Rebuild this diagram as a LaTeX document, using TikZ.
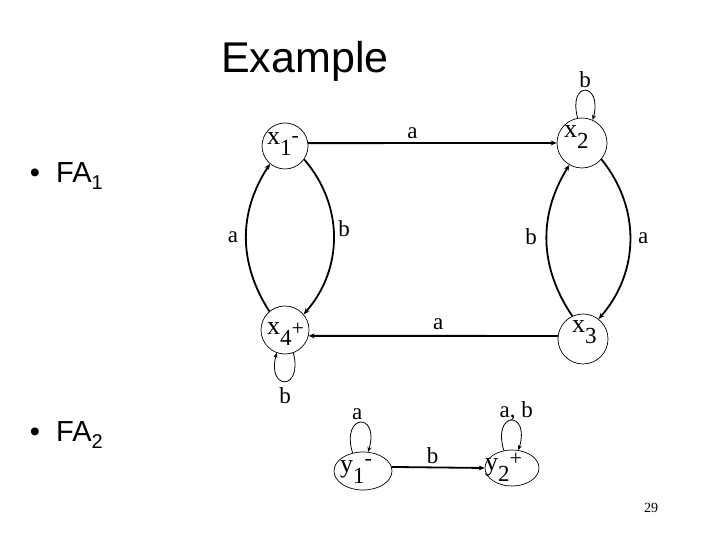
\documentclass[tikz,border=0pt]{standalone}
\usepackage{fontspec}
\setmainfont{Liberation Serif}
\newfontfamily\arialf{Liberation Sans}
\usetikzlibrary{arrows.meta,shapes.geometric}
\newcommand{\stlab}[4]{\fontsize{26}{26}\selectfont #1\raisebox{-11pt}{\fontsize{23}{23}\selectfont #2}\raisebox{#4}{\fontsize{22}{22}\selectfont #3}}
\begin{document}
\begin{tikzpicture}[x=1pt,y=1pt,
  st/.style={circle,draw,line width=0.7pt,inner sep=0pt},
  ov/.style={ellipse,draw,line width=0.7pt,inner sep=0pt},
  edge/.style={line width=1.8pt,-{Stealth[length=6pt,width=5pt]}},
  loopy/.style={line width=0.8pt,-{Stealth[length=5pt,width=4pt]}},
  lbl/.style={font=\fontsize{23}{23}\selectfont,inner sep=1pt},
  stl/.style={anchor=base west,inner sep=0pt},
  sans/.style={inner sep=0pt,font=\arialf\fontsize{29}{29}\selectfont}]
\useasboundingbox (0,0) rectangle (720,540);
% title and bullets
\node[anchor=base west,inner sep=0pt,font=\arialf\fontsize{43}{43}\selectfont] (title) at (221,467) {Example};
\node[sans,anchor=base] (bul1) at (35,357) {•};
\node[sans,anchor=base west] (fa1) at (56,357) {FA\raisebox{-7pt}{\fontsize{20}{20}\selectfont 1}};
\node[sans,anchor=base] (bul2) at (35,98) {•};
\node[sans,anchor=base west] (fa2) at (56,98) {FA\raisebox{-7pt}{\fontsize{20}{20}\selectfont 2}};
\node[inner sep=0pt,font=\fontsize{14}{14}\selectfont] (pg) at (651,32) {29};
% states of FA1
\node[st,minimum size=46pt] (x1) at (285,394) {};
\node[st,minimum size=50pt] (x2) at (582,397) {};
\node[st,minimum size=50pt] (x3) at (583,201) {};
\node[st,minimum size=48pt] (x4) at (285,210) {};
\node[stl] (lx1) at (267,395) {\stlab{x}{1}{-}{2pt}};
\node[stl] (lx2) at (564,402) {\stlab{x}{2}{}{0pt}};
\node[stl] (lx3) at (572,207) {\stlab{x}{3}{}{0pt}};
\node[stl] (lx4) at (267,205) {\stlab{x}{4}{+}{-1pt}};
% states of FA2
\node[ov,minimum width=58pt,minimum height=38pt] (y1) at (363,69) {};
\node[ov,minimum width=54pt,minimum height=36pt] (y2) at (512,72) {};
\node[stl] (ly1) at (340,67) {\stlab{y}{1}{-}{7pt}};
\node[stl] (ly2) at (485,69) {\stlab{y}{2}{+}{5pt}};
% FA1 edges
\draw[edge] (x1.7) -- node[lbl,pos=0.42,above=2pt] (e12) {a} (x2.180);
\draw[edge] (x3.173) -- node[lbl,pos=0.48,above=4pt] (e34) {a} (x4.-14.5);
\draw[edge] (x4.130) to[bend left=33] node[lbl,pos=0.5,left=6pt] (e41) {a} (x1.230);
\draw[edge] (x1.-35) to[bend left=41] node[lbl,pos=0.45,right=3pt] (e14) {b} (x4.40);
\draw[edge] (x3.115) to[bend left=33] node[lbl,pos=0.53,left=8pt] (e32) {b} (x2.240);
\draw[edge] (x2.-40) to[bend left=40] node[lbl,pos=0.49,right=6pt] (e23) {a} (x3.52);
% FA1 loops
\draw[loopy] (x2.100) .. controls +(-10,38) and +(10,38) .. node[lbl,pos=0.5,above=1pt] (l2) {b} (x2.65);
\draw[loopy] (x4.-70) .. controls +(10,-38) and +(-10,-38) .. node[lbl,pos=0.5,below=5pt] (l4) {b} (x4.-110);
% FA2
\draw[edge] (y1.8) -- node[lbl,pos=0.44,above=2pt] (ey) {b} (y2.180);
\draw[loopy] (y1.120) .. controls +(-12,40) and +(12,40) .. node[lbl,pos=0.5,anchor=base,yshift=3pt,xshift=-3pt] (ly1l) {a} (y1.75);
\draw[loopy] (y2.115) .. controls +(-12,40) and +(12,40) .. node[lbl,pos=0.5,anchor=base,yshift=3pt,xshift=5pt] (ly2l) {a, b} (y2.70);
\end{tikzpicture}
\end{document}
